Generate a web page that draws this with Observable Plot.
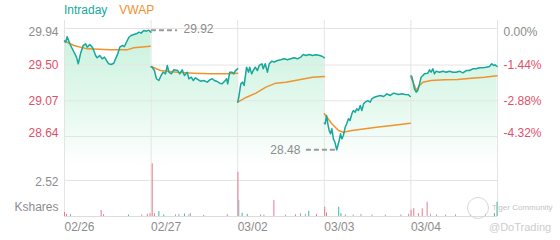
<!DOCTYPE html>
<html><head><meta charset="utf-8">
<script src="https://cdn.jsdelivr.net/npm/d3@7"></script>
<script src="https://cdn.jsdelivr.net/npm/@observablehq/plot@0.6"></script>
<style>
body{margin:0;background:#fff;font-family:"Liberation Sans",Arial,sans-serif;}
#chart{position:relative;width:560px;height:240px;overflow:hidden;background:#fff}
#chart svg{position:absolute;left:0;top:0;background:transparent}
.legend{position:absolute;top:3px;left:64px;font-size:12px;line-height:14px;white-space:nowrap}
.legend span{margin-right:12px}
.wm1{position:absolute;left:492px;top:203px;font-size:8px;color:#c4c4c4;white-space:nowrap}
.wm2{position:absolute;left:489px;top:221px;font-size:11px;color:#cdcdcd;white-space:nowrap}
.logo{position:absolute;left:467px;top:197px;width:20px;height:20px;border:1px solid #d8d8d8;border-radius:50%}
</style>
</head><body>
<div id="chart">
  <div class="legend"><span style="color:#17a79c">Intraday</span><span style="color:#f0922e">VWAP</span></div>
</div>
<script>
// ---- data ----
const days = ["02/26", "02/27", "03/02", "03/03", "03/04"];
const priceTicks = [29.94, 29.50, 29.07, 28.64];
const pctLabels = ["0.00%", "-1.44%", "-2.88%", "-4.32%"];
const volTick = 2.52;

// [minute of session, price]
const intraday0 = [[0,29.79],[5,29.775],[12,29.84],[24,29.756],[35,29.696],[54,29.595],[62,29.515],[72,29.635],[84,29.735],[95,29.756],[102,29.715],[114,29.747],[125,29.715],[132,29.675],[140,29.615],[147,29.587],[159,29.615],[170,29.575],[180,29.595],[189,29.555],[199,29.515],[210,29.507],[222,29.522],[230,29.575],[240,29.635],[249,29.715],[260,29.735],[270,29.723],[279,29.775],[290,29.835],[300,29.856],[312,29.868],[324,29.876],[335,29.896],[345,29.884],[357,29.916],[369,29.908],[380,29.92],[389,29.896]];
const intraday1 = [[0,29.48],[5,29.474],[15,29.434],[24,29.335],[35,29.314],[45,29.374],[54,29.414],[65,29.394],[73,29.495],[80,29.414],[91,29.394],[102,29.443],[120,29.434],[129,29.394],[140,29.443],[150,29.374],[163,29.414],[170,29.335],[181,29.354],[190,29.314],[200,29.347],[222,29.306],[237,29.314],[253,29.294],[264,29.322],[275,29.335],[285,29.314],[298,29.302],[309,29.282],[320,29.274],[331,29.306],[340,29.335],[345,29.274],[354,29.414],[365,29.414],[372,29.394],[380,29.434],[390,29.455]];
const intraday2 = [[0,29.053],[4,29.10],[14,29.274],[22,29.294],[29,29.254],[40,29.474],[49,29.414],[54,29.474],[63,29.394],[70,29.434],[79,29.474],[89,29.434],[97,29.495],[109,29.515],[115,29.455],[124,29.515],[134,29.414],[142,29.515],[154,29.547],[164,29.535],[179,29.555],[194,29.563],[209,29.575],[224,29.563],[239,29.575],[254,29.587],[269,29.575],[284,29.595],[295,29.627],[307,29.615],[322,29.627],[337,29.615],[352,29.623],[370,29.615],[382,29.603],[390,29.587]];
const intraday3 = [[0,28.80],[4,28.793],[10,28.893],[16,28.793],[22,28.712],[28,28.672],[34,28.733],[41,28.612],[48,28.57],[56,28.48],[61,28.532],[67,28.592],[73,28.672],[79,28.612],[86,28.652],[94,28.752],[101,28.793],[109,28.853],[116,28.833],[124,28.913],[131,28.953],[139,28.933],[146,28.973],[154,28.953],[162,29.013],[169,28.953],[177,29.033],[184,29.053],[196,29.073],[207,29.053],[214,29.094],[226,29.113],[236,29.121],[252,29.134],[267,29.121],[282,29.154],[297,29.134],[312,29.162],[322,29.154],[334,29.146],[349,29.154],[364,29.146],[379,29.142],[387,29.121]];
const intraday4 = [[0,29.37],[4,29.362],[10,29.294],[16,29.214],[24,29.174],[31,29.194],[39,29.274],[46,29.354],[54,29.374],[61,29.394],[76,29.402],[84,29.443],[91,29.414],[99,29.455],[106,29.394],[114,29.426],[129,29.414],[144,29.426],[159,29.414],[174,29.426],[189,29.414],[204,29.414],[219,29.426],[234,29.406],[249,29.434],[264,29.434],[279,29.455],[294,29.455],[309,29.467],[324,29.467],[339,29.474],[354,29.483],[364,29.515],[373,29.495],[379,29.503],[388,29.483]];

const vwap0 = [[0,29.79],[42,29.735],[102,29.695],[207,29.683],[282,29.683],[312,29.708],[387,29.727]];
const vwap1 = [[0,29.483],[42,29.434],[117,29.414],[192,29.402],[267,29.394],[342,29.394],[390,29.402]];
const vwap2 = [[0,29.053],[40,29.113],[82,29.162],[127,29.234],[172,29.282],[217,29.294],[277,29.322],[337,29.354],[390,29.362]];
const vwap3 = [[0,28.913],[34,28.793],[64,28.712],[86,28.692],[124,28.712],[184,28.733],[244,28.753],[304,28.773],[388,28.80]];
const vwap4 = [[0,29.354],[16,29.254],[24,29.194],[39,29.254],[54,29.294],[91,29.314],[151,29.322],[211,29.326],[271,29.342],[331,29.354],[388,29.37]];

// [day index, minute, Kshares, direction: -1 down, 1 up, 0 flat]
const volume = [
  [0,0,0.28,-1],[0,9,0.15,-1],[0,27,0.12,1],[0,165,0.42,-1],[0,176,0.12,-1],[0,288,0.1,1],[0,348,0.12,0],[0,373,0.15,-1],[0,385,0.2,-1],
  [1,5,3.69,-1],[1,15,0.19,-1],[1,35,0.35,1],[1,57,0.1,1],[1,110,0.12,0],[1,125,0.15,0],[1,150,0.18,1],[1,170,0.12,0],[1,177,0.2,0],[1,237,0.08,-1],[1,343,0.12,-1],
  [2,1,3.1,-1],[2,5,1.12,0],[2,20,0.22,1],[2,43,0.15,1],[2,103,0.12,0],[2,118,0.1,0],[2,163,1.12,-1],[2,215,0.1,0],[2,260,0.12,-1],[2,283,0.2,0],[2,305,0.15,0],[2,320,0.37,1],[2,355,0.15,-1],
  [3,2,0.65,-1],[3,10,0.25,-1],[3,65,0.65,1],[3,75,0.2,1],[3,95,0.12,0],[3,130,0.1,0],[3,165,0.15,0],[3,215,0.1,0],[3,275,0.1,0],[3,345,0.12,0],[3,380,0.15,-1],
  [4,1,0.45,-1],[4,13,0.55,-1],[4,34,0.2,-1],[4,51,0.54,-1],[4,73,1.0,-1],[4,88,0.15,0],[4,115,0.12,0],[4,156,0.1,0],[4,201,0.12,0],[4,268,0.1,0],[4,336,0.15,0],[4,376,0.2,1],[4,388,1.0,1]
];

// ---- styling ----
const TEAL = "#17a79c", ORANGE = "#f0922e", RED = "#e0506a", GRAY = "#8c8c8c", GRID = "#e4e4e4";
const FONT = "'Liberation Sans', Arial, sans-serif";
const SESSION = 390;
const fadeBase = 28.29;

const toRows = (list) => list.flatMap((arr, d) => arr.map(([t, p]) => ({d, x: d + t / SESSION, p})));
const intraRows = toRows([intraday0, intraday1, intraday2, intraday3, intraday4]);
const vwapRows = toRows([vwap0, vwap1, vwap2, vwap3, vwap4]);
const volRows = volume.map(([d, t, k, dir]) => ({x: d + t / SESSION, k, c: dir < 0 ? "#e8798f" : dir > 0 ? "#3db8a9" : "#a3aab8"}));

const hi = intraRows.reduce((a, b) => (b.p > a.p ? b : a));
const lo = intraRows.reduce((a, b) => (b.p < a.p ? b : a));

const anchors = ["top", "middle", "middle", "bottom"];
const tickLabelMarks = priceTicks.flatMap((v, i) => [
  Plot.text([v], {y: d => d, frameAnchor: "left", dx: -6, dy: i === 0 ? -1 : 0, textAnchor: "end", lineAnchor: anchors[i], text: d => d.toFixed(2), fill: i === 0 ? GRAY : RED, fontSize: 12}),
  Plot.text([v], {y: d => d, frameAnchor: "right", dx: 6, dy: i === 0 ? -1 : 0, textAnchor: "start", lineAnchor: anchors[i], text: () => pctLabels[i], fill: i === 0 ? GRAY : RED, fontSize: 12})
]);

const common = {width: 560, height: 240, marginLeft: 64, marginRight: 63, marginTop: 20, marginBottom: 24};

const pricePlot = Plot.plot({
  ...common,
  style: {fontFamily: FONT, fontSize: "12px", background: "transparent"},
  x: {domain: [0, 5], axis: null},
  y: {domain: [28.64, 29.94], range: [136, 28], axis: null},
  marks: [
    Plot.areaY(intraRows, {x: "x", y1: fadeBase, y2: "p", z: "d", fill: "url(#fadeFill)"}),
    Plot.ruleY(priceTicks, {stroke: GRID}),
    Plot.ruleX([0, 1, 2, 3, 4, 5], {stroke: GRID}),
    Plot.line(vwapRows, {x: "x", y: "p", z: "d", stroke: ORANGE, strokeWidth: 1.5}),
    Plot.line(intraRows, {x: "x", y: "p", z: "d", stroke: TEAL, strokeWidth: 1.5}),
    Plot.ruleY([hi], {y: "p", x1: d => d.x + 0.03, x2: d => d.x + 0.33, stroke: "#9a9a9a", strokeWidth: 2, strokeDasharray: "5,3"}),
    Plot.text([hi], {y: "p", x: d => d.x + 0.4, dy: -1, text: d => d.p.toFixed(2), textAnchor: "start", fill: GRAY, fontSize: 12}),
    Plot.ruleY([lo], {y: "p", x1: d => d.x - 0.35, x2: d => d.x - 0.01, stroke: "#9a9a9a", strokeWidth: 2, strokeDasharray: "5,3"}),
    Plot.text([lo], {y: "p", x: d => d.x - 0.42, text: d => d.p.toFixed(2), textAnchor: "end", fill: GRAY, fontSize: 12}),
    ...tickLabelMarks
  ]
});

const sy = pricePlot.scale("y");
const defs = d3.select(pricePlot).insert("defs", ":first-child");
const grad = defs.append("linearGradient").attr("id", "fadeFill")
  .attr("gradientUnits", "userSpaceOnUse")
  .attr("x1", 0).attr("x2", 0)
  .attr("y1", sy.apply(29.94)).attr("y2", sy.apply(fadeBase));
grad.append("stop").attr("offset", 0).attr("stop-color", "#c8f2dc");
grad.append("stop").attr("offset", 0.6).attr("stop-color", "#e6f9ef");
grad.append("stop").attr("offset", 1).attr("stop-color", "#ffffff");

const volPlot = Plot.plot({
  ...common,
  style: {fontFamily: FONT, fontSize: "12px", background: "transparent"},
  x: {domain: [0, 5], axis: null},
  y: {domain: [0, volTick], range: [216, 180], axis: null},
  color: {type: "identity"},
  marks: [
    Plot.ruleY([volTick], {stroke: GRID}),
    Plot.ruleY([0], {stroke: "#dcdcdc"}),
    Plot.ruleX(volRows, {x: "x", y1: 0, y2: "k", stroke: "c", strokeWidth: 1}),
    Plot.text([volTick], {y: d => d, frameAnchor: "left", dx: -6, dy: 2, textAnchor: "end", text: d => d.toFixed(2), fill: GRAY, fontSize: 12}),
    Plot.text(["Kshares"], {frameAnchor: "bottom-left", dx: -6, dy: -6, textAnchor: "end", fill: GRAY, fontSize: 12}),
    Plot.text(days, {x: (d, i) => i, frameAnchor: "bottom", dy: 11, textAnchor: "start", lineAnchor: "middle", fill: GRAY, fontSize: 12})
  ]
});

const chart = document.getElementById("chart");
chart.insertBefore(volPlot, chart.firstChild);
chart.insertBefore(pricePlot, chart.firstChild);

chart.insertAdjacentHTML("beforeend",
  '<div class="logo"></div><div class="wm1">Tiger Community</div><div class="wm2">@DoTrading</div>');
</script>
</body></html>
